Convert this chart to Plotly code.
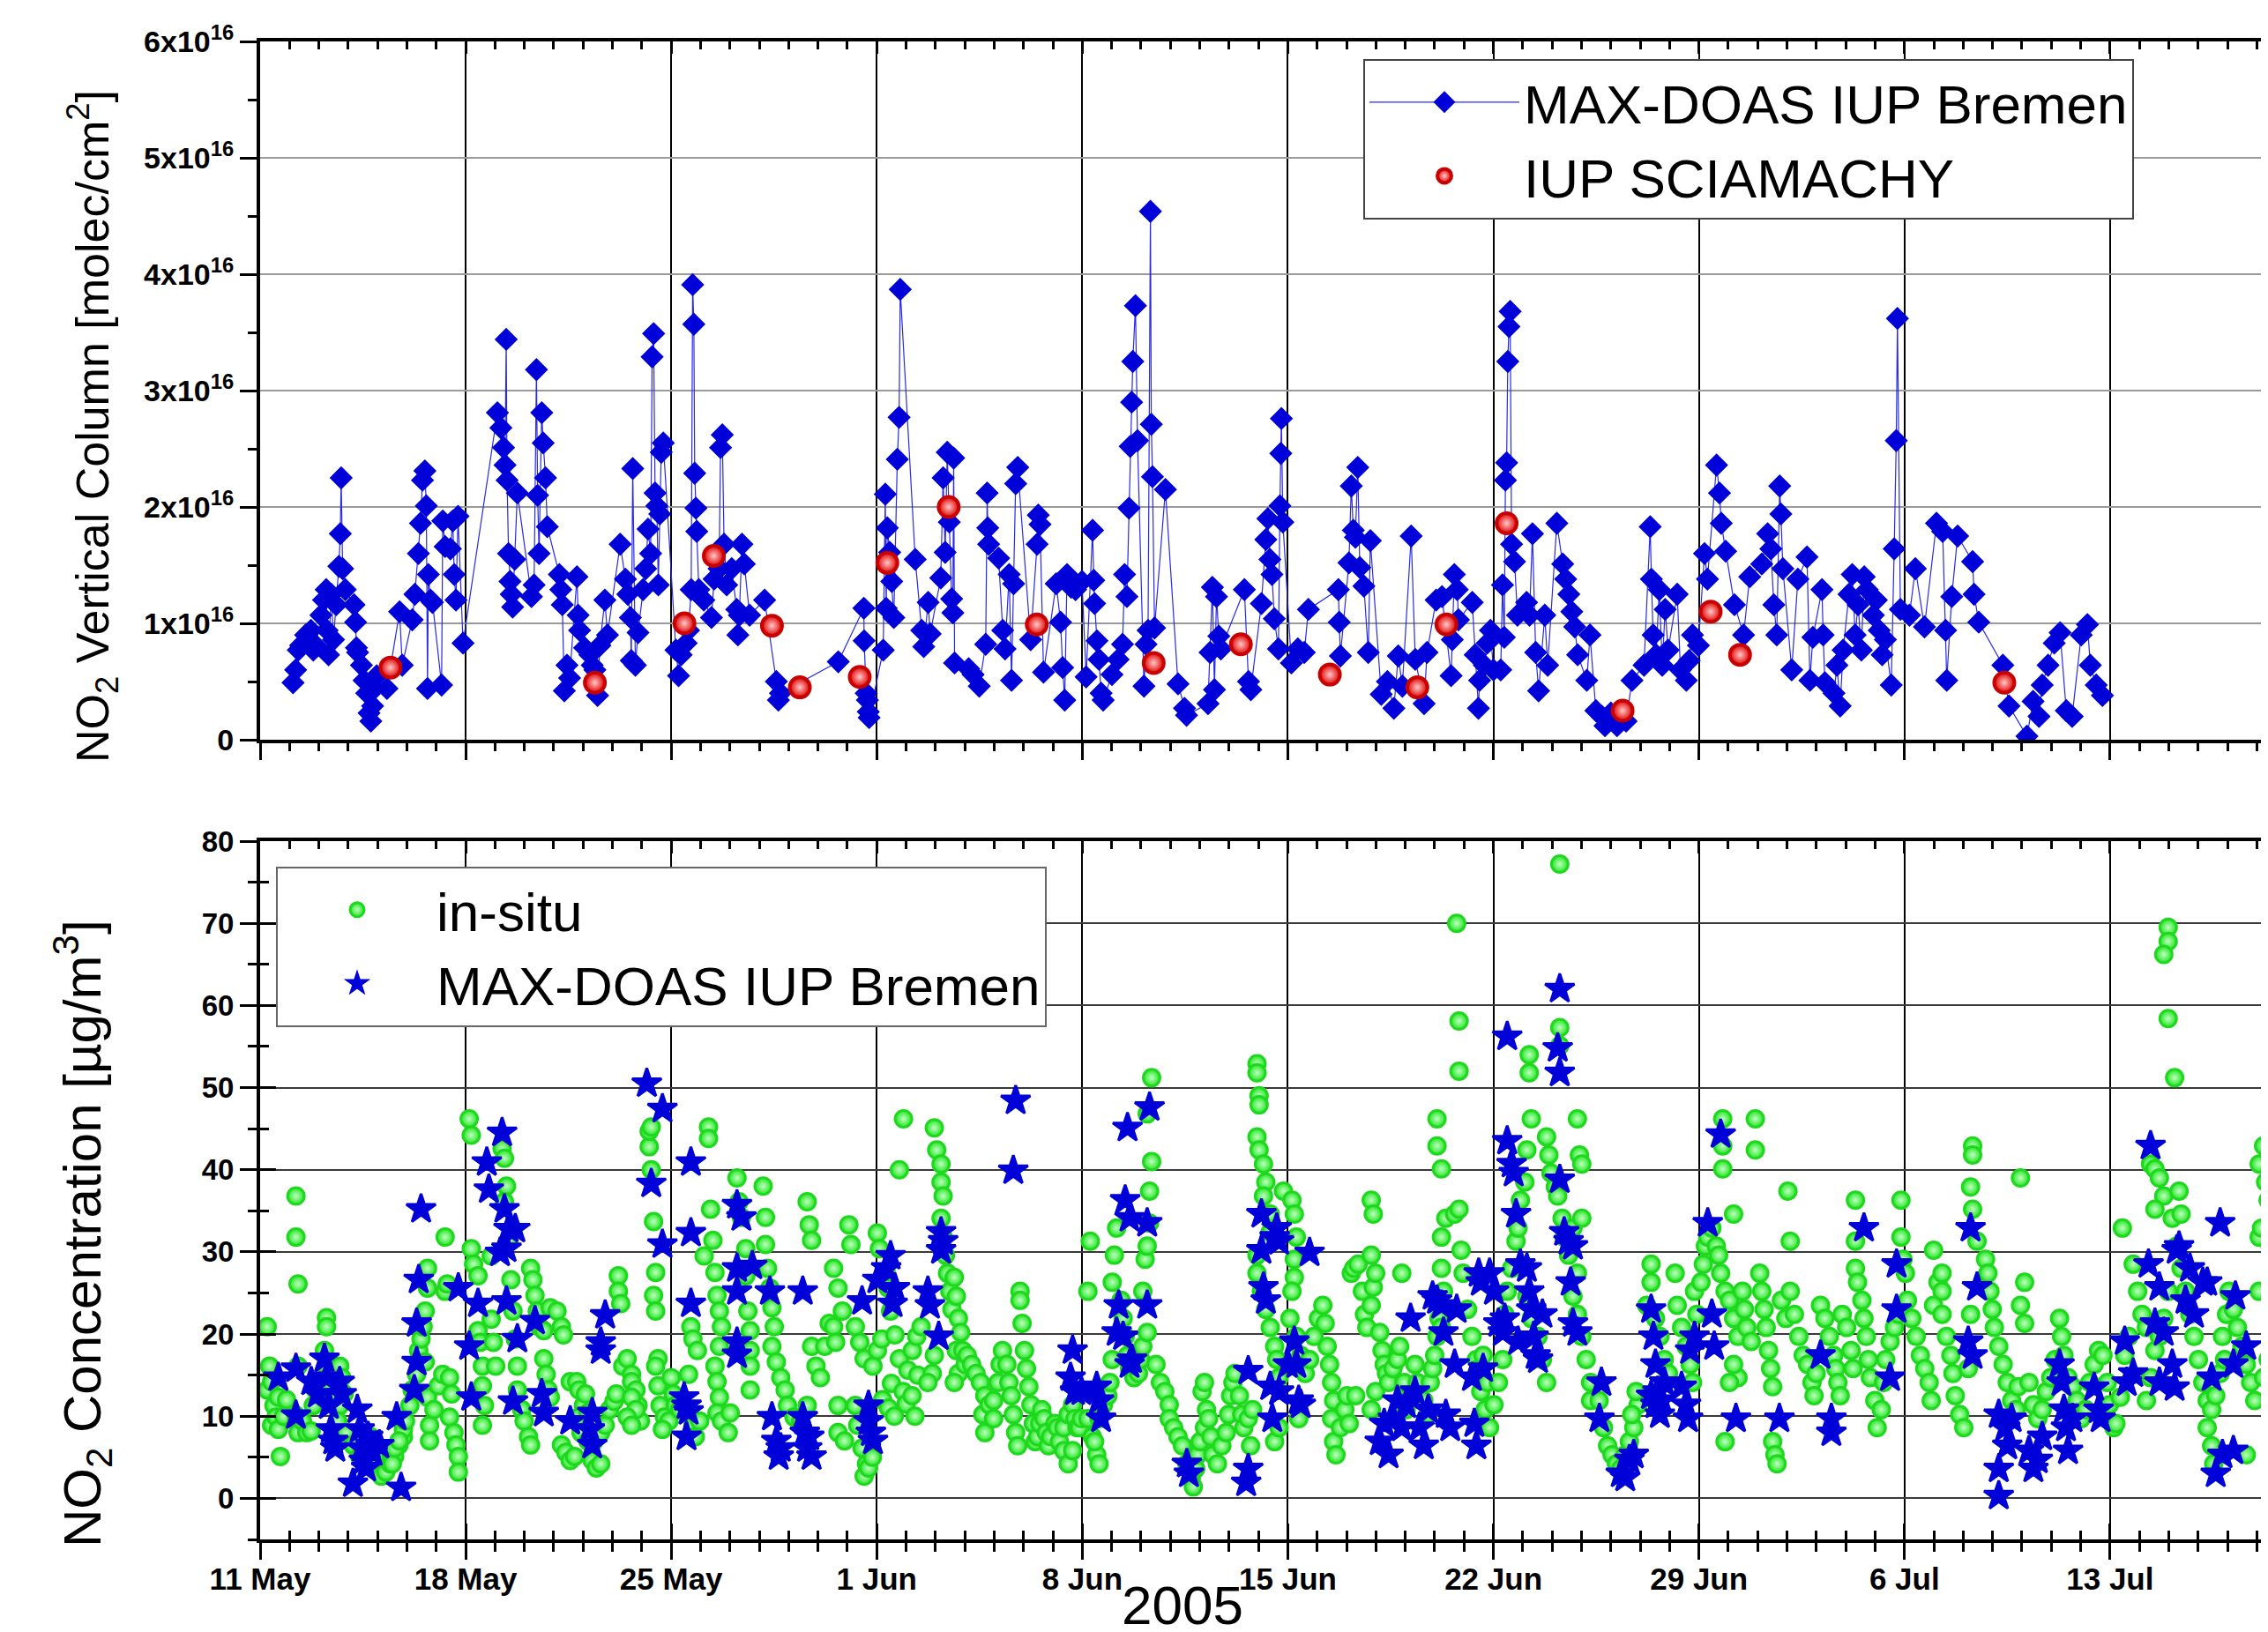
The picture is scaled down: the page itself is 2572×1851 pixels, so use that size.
import plotly.graph_objects as go
from datetime import datetime, timedelta

BASE = datetime(2005, 5, 11)
X_RANGE = ["2005-05-11 00:00", "2005-07-18 14:53"]
WEEK_MS = 7 * 86400000
DAY_MS = 86400000

# ---------------- top panel: MAX-DOAS vertical column (units of 1e16 molec/cm2) -------------
vc_day = [1.12, 1.21, 1.30, 1.38, 1.47, 1.55, 1.73, 1.81, 1.90, 2.07, 2.16, 2.25, 2.28, 2.33, 2.42, 2.50, 2.59,
          2.68, 2.73, 2.76, 2.81, 2.90, 3.20, 3.25, 3.28, 3.32, 3.45, 3.54, 3.63, 3.71, 3.77, 3.83, 3.90, 3.97,
          4.32, 4.75, 4.84, 5.18, 5.27, 5.39, 5.46, 5.53, 5.61, 5.66, 5.70, 5.73, 5.80, 5.87, 6.18, 6.22, 6.30,
          6.48, 6.56, 6.61, 6.67, 6.74, 6.91, 8.08, 8.20, 8.29, 8.34, 8.38, 8.41, 8.46, 8.51, 8.55, 8.60, 8.67,
          8.76, 9.24, 9.33, 9.41, 9.45, 9.50, 9.59, 9.64, 9.72, 9.78, 10.19, 10.24, 10.29, 10.36, 10.45, 10.54,
          10.79, 10.83, 10.88, 11.05, 11.23, 11.31, 11.40, 11.49, 11.57, 11.74, 11.83, 12.26, 12.44, 12.52,
          12.61, 12.64, 12.69, 12.78, 12.87, 13.04, 13.13, 13.21, 13.30, 13.35, 13.40, 13.45, 13.51, 13.56,
          13.61, 13.66, 13.73, 14.16, 14.25, 14.34, 14.51, 14.59, 14.68, 14.73, 14.77, 14.80, 14.84, 14.87,
          14.94, 15.11, 15.37, 15.46, 15.63, 15.68, 15.74, 15.80, 15.89, 16.06, 16.23, 16.27, 16.32, 16.41,
          16.49, 16.67, 17.18, 17.58, 17.65, 17.72, 19.69, 20.56, 20.57, 20.64, 20.68, 20.71, 20.74, 21.22,
          21.29, 21.32, 21.36, 21.44, 21.51, 21.58, 21.70, 21.76, 21.80, 22.31, 22.53, 22.60, 22.75, 22.82,
          23.18, 23.26, 23.33, 23.40, 23.47, 23.55, 23.59, 23.62, 23.65, 24.13, 24.28, 24.49, 24.71, 24.76,
          24.78, 24.81, 25.15, 25.29, 25.37, 25.51, 25.59, 25.66, 25.73, 25.80, 26.24, 26.46, 26.50, 26.56,
          26.68, 27.11, 27.26, 27.33, 27.40, 27.48, 27.62, 27.77, 27.99, 28.13, 28.35, 28.39, 28.42, 28.50,
          28.57, 28.64, 28.71, 29.01, 29.22, 29.37, 29.44, 29.52, 29.59, 29.63, 29.68, 29.72, 29.81, 29.88,
          30.10, 30.17, 30.24, 30.32, 30.35, 30.39, 30.46, 30.83, 31.26, 31.48, 31.55, 32.28, 32.35, 32.43,
          32.50, 32.57, 32.65, 32.72, 33.52, 33.66, 33.74, 34.10, 34.25, 34.32, 34.39, 34.46, 34.54, 34.68,
          34.73, 34.76, 34.78, 34.83, 35.12, 35.34, 35.56, 35.70, 36.72, 36.75, 36.79, 37.08, 37.16, 37.23,
          37.30, 37.38, 37.45, 37.59, 37.74, 37.81, 38.18, 38.39, 38.61, 38.76, 38.90, 39.20, 39.34, 39.64,
          39.74, 40.05, 40.25, 40.56, 40.60, 40.67, 40.77, 40.81, 41.28, 41.38, 41.49, 41.53, 41.69, 41.79,
          41.90, 42.00, 42.25, 42.31, 42.37, 42.41, 42.45, 42.49, 42.53, 42.57, 42.62, 42.72, 42.82, 43.13,
          43.23, 43.33, 43.44, 43.54, 43.75, 43.85, 44.16, 44.36, 44.46, 44.57, 44.67, 44.77, 44.87, 45.18,
          45.29, 45.49, 45.70, 45.80, 46.00, 46.21, 46.52, 46.72, 47.13, 47.34, 47.38, 47.44, 47.54, 47.65,
          47.75, 47.85, 47.95, 48.26, 48.37, 48.57, 48.67, 48.78, 48.98, 49.19, 49.29, 49.60, 49.70, 49.76,
          49.91, 50.21, 50.52, 50.73, 51.14, 51.34, 51.45, 51.55, 51.65, 51.75, 51.79, 51.86, 52.16, 52.37,
          52.68, 52.78, 52.88, 53.19, 53.23, 53.29, 53.60, 53.70, 53.81, 53.91, 54.11, 54.22, 54.32, 54.42,
          54.53, 54.63, 54.73, 54.94, 55.04, 55.14, 55.24, 55.35, 55.55, 55.65, 55.72, 55.76, 55.86, 56.17,
          56.37, 56.68, 57.09, 57.30, 57.40, 57.44, 57.61, 57.81, 58.32, 58.37, 58.53, 59.35, 59.56, 60.17,
          60.38, 60.58, 60.69, 60.89, 61.10, 61.30, 61.51, 61.71, 62.02, 62.23, 62.33, 62.53, 62.74]
vc_e16 = [0.49, 0.60, 0.77, 0.81, 0.83, 0.90, 0.94, 0.77, 0.81, 1.07, 1.20, 1.29, 0.94, 0.73, 1.25, 0.86, 1.16,
          1.49, 1.77, 2.25, 1.47, 1.29, 1.16, 1.01, 0.79, 0.75, 0.64, 0.51, 0.40, 0.23, 0.16, 0.29, 0.44, 0.55,
          0.44, 1.10, 0.64, 1.03, 1.25, 1.60, 1.86, 2.23, 2.31, 2.01, 0.44, 1.42, 1.20, 1.18, 0.47, 1.88, 1.66,
          1.64, 1.88, 1.42, 1.20, 1.92, 0.83, 2.81, 2.68, 2.51, 2.36, 3.44, 2.23, 1.60, 1.36, 1.25, 1.14, 1.55,
          2.12, 1.23, 1.33, 3.18, 2.10, 1.60, 2.81, 2.55, 2.25, 1.83, 1.42, 1.29, 1.16, 0.42, 0.64, 0.53,
          1.40, 1.07, 0.94, 0.79, 0.73, 0.64, 0.60, 0.38, 0.81, 1.20, 0.90, 1.68, 1.38, 1.25,
          1.05, 0.68, 2.33, 0.64, 0.92, 1.29, 1.47, 1.81, 1.60, 3.29, 3.49, 2.12, 2.01, 1.33,
          1.94, 2.47, 2.55, 0.77, 0.55, 0.73, 0.83, 0.94, 1.29, 3.91, 3.57, 2.29, 1.99, 1.79,
          1.29, 1.20, 1.05, 1.38, 1.47, 2.51, 2.62, 1.68, 1.33, 1.47, 1.12, 0.90, 1.07, 1.68,
          1.51, 1.07, 1.20, 0.50, 0.34, 0.40, 0.67, 1.13, 0.85, 0.40, 0.34, 0.24, 0.19, 0.77,
          2.11, 1.13, 1.82, 1.61, 1.36, 1.05, 2.41, 2.77, 3.87, 1.55, 0.94, 0.80, 1.18, 0.91,
          1.39, 2.25, 1.61, 2.47, 1.87, 1.21, 1.09, 2.42, 0.66, 0.61, 0.56, 0.46, 0.82, 2.12,
          1.82, 1.68, 1.56, 0.94, 0.78, 1.42, 0.51, 1.34, 2.20, 2.34, 0.86, 1.68, 1.93, 1.85,
          0.58, 1.34, 1.01, 0.62, 0.34, 1.42, 1.31, 1.29, 1.36, 0.54, 1.80, 1.37, 1.17, 0.85,
          0.69, 0.40, 0.34, 0.56, 0.69, 0.82, 1.42, 1.23, 1.99, 2.52, 2.90, 3.25, 3.73, 2.57,
          0.46, 0.82, 0.94, 4.54, 2.71, 2.26, 0.96, 2.15, 0.48, 0.27, 0.21, 0.31, 0.75, 1.31,
          0.43, 1.23, 0.89, 0.78, 1.29, 0.50, 0.43, 1.17, 1.72, 1.90, 1.55, 1.42, 1.04, 0.78,
          2.01, 2.46, 2.76, 1.87, 0.66, 0.78, 0.75, 1.12, 1.29, 1.01, 0.72, 1.52, 2.18, 1.80,
          1.74, 2.34, 1.48, 1.32, 0.75, 1.71, 0.39, 0.50, 0.27, 0.72, 0.46, 1.75, 0.69, 0.31,
          0.75, 1.20, 1.23, 0.55, 0.86, 1.42, 1.29, 1.03, 1.18, 0.73, 0.27, 0.51, 0.64, 0.83,
          0.94, 0.60, 0.60, 1.33, 0.88, 2.23, 2.38, 3.25, 3.55, 3.68, 1.68, 1.53, 1.07, 1.18,
          1.07, 1.77, 0.75, 0.42, 1.07, 0.64, 1.86, 1.51, 1.38, 1.25, 1.10, 0.97, 0.73, 0.51,
          0.90, 0.25, 0.20, 0.12, 0.23, 0.12, 0.16, 0.51, 0.64, 1.83, 1.38, 0.90, 0.73, 1.29,
          0.64, 1.12, 0.77, 1.25, 0.60, 0.51, 0.68, 0.90, 0.81, 1.60, 1.38, 2.36, 2.12, 1.86,
          1.62, 1.16, 0.90, 1.40, 1.51, 1.77, 1.64, 1.16, 0.90, 2.18, 1.94, 1.47, 0.60, 1.38,
          1.57, 0.51, 0.88, 1.29, 0.90, 0.49, 0.40, 0.64, 0.29, 0.77, 1.25, 1.42, 0.90, 1.16,
          0.77, 1.40, 1.29, 1.07, 1.20, 0.94, 0.73, 0.86, 0.47, 1.64, 2.57, 3.62, 1.12, 1.07,
          1.47, 0.97, 1.86, 1.79, 0.94, 0.51, 1.23, 1.75, 1.53, 1.25, 1.01, 0.64, 0.29, 0.03,
          0.33, 0.20, 0.47, 0.64, 0.83, 0.92, 0.25, 0.20, 0.90, 0.99, 0.64, 0.47, 0.38]

scia_day = [4.44, 11.40, 14.45, 15.45, 17.43, 18.38, 20.42, 21.36, 23.45, 26.45, 30.43, 33.40, 36.43, 39.41,
            40.40, 42.45, 46.40, 49.40, 50.40, 59.40]
scia_e16 = [0.62, 0.49, 1.00, 1.58, 0.98, 0.45, 0.54, 1.52, 2.00, 0.99, 0.66, 0.82, 0.56, 0.45,
            0.99, 1.86, 0.25, 1.10, 0.73, 0.49]

top_tick_vals = [0, 1, 2, 3, 4, 5, 6]
top_tick_text = ["0", "1x10<sup>16</sup>", "2x10<sup>16</sup>", "3x10<sup>16</sup>",
                 "4x10<sup>16</sup>", "5x10<sup>16</sup>", "6x10<sup>16</sup>"]

# ---------------- bottom panel: NO2 concentration (ug/m3) ----------------
insitu_day = [
    0.24, 0.24, 0.32, 0.39, 0.39, 0.47, 0.54, 0.62, 0.62, 0.69, 0.80, 0.90,
    1.22, 1.22, 1.29, 1.22, 1.29, 1.44, 1.59, 1.74, 1.81, 1.89, 1.29,
    2.19, 2.26, 2.26, 2.26, 2.34, 2.41, 2.49, 2.71, 2.78, 2.86, 2.71, 2.64, 2.93,
    3.16, 3.39, 3.76, 3.91, 4.13, 4.28, 4.43, 4.58, 4.73, 4.88, 4.88, 4.50, 4.58, 4.73, 4.95, 5.10, 5.18, 5.33,
    5.40, 5.48, 5.55, 5.62, 5.70, 5.70, 5.62, 5.70, 5.77, 5.77, 5.92, 6.07, 6.22, 6.30, 6.30, 6.37, 6.45, 6.52,
    6.45, 6.60, 6.67, 6.75, 6.75,
    7.12, 7.19, 7.19, 7.27, 7.42, 7.42, 7.49, 7.57, 7.57, 7.64, 7.57, 7.87, 7.94, 8.02, 7.87, 8.24, 8.32, 8.39,
    8.32, 8.46, 8.54, 8.61, 8.69, 8.76, 8.76, 8.91, 8.99, 9.14, 9.21, 9.21, 9.29, 9.36, 9.44, 9.51, 9.66, 9.88,
    10.11, 10.26, 10.33, 9.66, 9.74, 9.81, 9.88, 10.56, 10.78, 10.86, 11.01, 10.86, 11.08, 11.16, 10.93, 11.16,
    10.26, 10.41, 10.56, 10.71,
    11.31, 11.45, 11.60, 11.38, 11.60, 11.75, 11.90, 12.05, 12.13, 12.20, 12.20, 12.28, 12.35, 12.50, 12.65,
    12.65, 12.80, 12.87, 12.95, 12.65, 12.80, 12.50, 12.65, 13.40, 13.47, 13.40, 13.47, 13.32, 13.25, 13.25,
    13.32, 13.55, 13.47, 13.55, 13.62, 13.77, 13.92, 13.70, 14.00, 14.07, 14.14, 14.29, 14.59, 14.67, 14.74,
    14.89, 14.74, 14.82, 14.97,
    15.27, 15.27, 15.12, 15.34, 15.42, 15.49, 15.56, 15.64, 15.71, 15.64, 15.49, 15.56, 15.64, 15.56, 15.71,
    15.94, 16.01, 16.24, 16.31, 16.39, 16.54, 16.54, 16.61, 16.69, 16.69, 16.69, 16.69, 17.13, 17.21, 17.21,
    17.28, 17.36, 17.43, 17.51, 17.43, 17.58, 17.73, 17.88, 17.96, 18.18, 18.41, 18.63, 18.63, 18.70, 18.78,
    18.78, 18.93,
    19.08, 19.23, 19.38, 19.53, 19.60, 19.68, 19.68, 19.90, 19.53, 19.68, 19.83, 20.05, 20.12, 20.27, 20.42,
    20.57, 20.27, 20.35, 20.50, 20.65, 20.57, 20.72, 20.85, 20.87, 21.02, 21.17, 21.02, 21.09, 21.32, 21.39,
    21.47, 21.62, 21.77, 21.91, 21.77, 22.06, 22.21, 22.36, 22.51, 21.20, 21.40, 21.50, 21.60, 21.90, 22.00,
    22.20, 22.30, 22.40,
    22.96, 23.04, 23.19, 23.19, 23.26, 23.19, 23.26, 23.34, 23.41, 23.49, 23.56, 23.64, 23.71, 23.78, 23.86,
    23.71, 23.78, 23.64, 22.89, 22.96, 22.74, 23.93, 24.01, 24.08, 24.23, 24.38, 24.53, 24.68, 24.61, 24.68,
    24.83, 24.98, 24.98, 25.13, 25.20, 25.28, 25.43, 25.50, 25.58, 25.65, 25.73, 25.80, 25.88, 25.88, 25.95,
    26.03, 26.10, 26.18, 26.25, 26.33, 26.40, 26.48, 26.55, 26.62, 26.70, 26.77, 26.85, 26.92,
    27.07, 27.15, 27.22, 27.37, 27.52, 27.67, 27.75, 27.82, 27.37, 27.52, 27.67, 27.90, 27.97, 28.19, 28.27,
    28.19, 28.34, 28.49, 28.57, 28.42, 28.57, 28.72, 28.87, 28.94, 29.02, 29.02, 29.09, 29.17, 29.32, 29.39,
    29.46, 29.54, 29.61, 29.76, 29.91, 29.99, 30.06, 30.21, 30.06, 30.14, 30.21, 30.29, 30.29, 30.36, 30.36,
    30.21, 30.51, 30.66, 30.81, 30.96, 30.96,
    31.11, 31.26, 31.41, 31.56, 31.71, 31.78, 31.86, 31.93, 32.01, 32.16, 32.23, 32.08, 32.16, 32.30, 32.38,
    32.45, 32.60, 32.75, 32.90, 32.98, 33.05, 33.13, 33.20, 33.35, 33.43, 33.50, 33.65, 33.80, 33.73, 33.95,
    33.95, 34.02, 34.02, 33.95, 34.02, 34.17, 34.25, 34.17, 34.40, 34.40, 33.95, 33.95, 34.10, 34.25, 34.40,
    34.55, 34.62, 34.70, 34.55, 34.70, 34.85,
    35.14, 35.22, 35.29, 35.22, 35.22, 35.14, 35.07, 35.29, 35.44, 35.37, 35.59, 35.74, 35.89, 36.04, 36.19,
    36.27, 36.34, 36.42, 36.49, 36.56, 36.49, 36.56, 36.64, 36.79, 36.94, 37.01, 37.16, 37.24, 37.39, 37.54,
    37.61, 37.69, 37.84, 37.91, 37.99, 37.84, 37.84, 37.91, 38.13, 38.21, 38.28, 38.36, 37.99, 37.84, 37.31,
    37.09, 38.43, 38.58, 38.73, 38.88, 38.81, 38.96,
    39.03, 39.18, 39.33, 39.41, 39.48, 39.63, 39.78, 39.85, 39.93, 40.00, 40.08, 40.08, 40.23, 40.08, 40.15,
    40.23, 40.30, 40.23, 40.23, 40.38, 40.68, 40.83, 40.75, 40.83, 40.83, 40.90, 40.97, 41.12, 41.27, 41.42,
    41.50, 41.57, 41.72, 41.87, 41.80, 41.65, 42.02, 42.17, 42.32, 42.39, 42.47, 42.62, 42.77, 42.84, 42.92,
    43.07, 43.14, 43.22, 43.22, 43.29, 43.14, 43.29, 43.52, 43.67, 43.81, 43.81, 43.89, 43.96, 44.11, 44.19,
    44.26, 44.26, 44.26, 44.34, 44.41, 44.56, 44.71, 44.86, 44.93, 45.01, 45.01, 44.86, 44.71, 44.86, 45.01,
    45.16, 45.31, 45.31, 45.60, 45.75, 45.89, 46.04, 46.19, 46.34, 46.49, 46.63, 46.78, 46.93, 46.71, 46.86,
    47.37, 47.37, 47.22, 47.52, 47.67, 47.82, 47.96, 48.19, 48.26, 48.41, 48.56, 48.70, 48.78, 48.93, 48.85,
    49.07, 49.15, 49.22, 49.30, 49.44, 49.59, 49.67, 49.74, 49.89, 49.81, 49.81, 49.81, 50.18, 50.04, 50.18,
    50.33, 50.48, 50.55, 50.63, 50.78, 50.92, 50.92, 50.33, 49.89, 50.04, 50.18,
    51.07, 51.14, 51.22, 51.29, 51.37, 51.44, 51.51, 51.51, 51.59, 51.66, 51.81, 51.96, 52.03, 52.11, 52.11,
    52.25, 52.40, 52.55, 52.70, 52.85, 52.92, 52.99, 53.14, 53.29, 53.44, 53.59, 53.66, 53.73, 53.81, 53.88,
    54.03, 54.18, 54.25, 54.33, 54.33, 54.33, 54.40, 54.55, 54.62, 54.70, 54.77, 54.84, 54.99,
    55.07, 55.21, 55.29, 55.36, 55.51, 55.66, 55.80, 55.88, 55.88, 55.95, 56.03, 56.10, 56.25, 56.40, 56.54,
    56.69, 56.84, 56.91, 56.99, 56.99, 57.14, 57.28, 57.28, 57.28, 57.43, 57.58, 57.65, 57.73, 57.88, 58.02,
    58.17, 58.25, 58.32, 58.32, 58.25, 58.32, 58.47, 58.76, 58.84, 58.91, 58.99,
    59.06, 59.21, 59.36, 59.50, 59.65, 59.80, 59.87, 59.95, 60.09, 59.95, 60.09, 60.24, 60.39, 60.54, 60.69,
    60.83, 60.98, 61.13, 61.28, 61.35, 61.43, 61.57, 61.72, 61.87, 62.02, 62.17, 62.31, 62.46, 62.61, 62.76,
    62.91, 62.98, 63.13,
    63.20, 63.35, 63.42, 63.50, 63.64, 63.79, 63.94, 64.09, 64.24, 64.38, 64.53, 64.68, 64.83, 64.53, 64.98,
    64.98, 64.83, 64.98, 65.20, 65.12, 64.98, 64.83, 64.68, 64.53, 64.38, 64.24, 65.35, 65.42, 65.27, 65.42,
    65.57, 65.72, 65.86, 66.01, 66.16, 66.31, 66.46, 66.46, 66.53, 66.31, 66.60, 66.75, 66.90, 66.83, 66.97,
    67.05, 67.20, 67.34, 67.49, 67.64, 67.79, 67.64, 67.93, 68.08, 68.08, 68.16, 68.08, 68.23, 68.30, 68.38,
    68.53, 68.45, 68.53, 68.60, 68.53, 68.38, 68.23]
insitu_conc = [
    20.9, 13.2, 16.1, 14.2, 8.9, 11.3, 9.9, 8.4, 12.3, 5.1, 10.0, 12.0,
    36.8, 31.8, 26.1, 10.1, 8.0, 9.4, 8.0, 8.2, 11.3, 13.2, 16.1,
    18.0, 22.0, 20.9, 16.1, 14.7, 13.2, 11.8, 16.1, 14.7, 12.7, 11.3, 9.4, 8.0,
    6.5, 5.1, 7.5, 5.1, 2.7, 3.2, 4.2, 5.1, 6.5, 7.5, 8.4, 4.2, 6.1, 7.0, 9.4, 11.3, 13.2, 15.1,
    18.0, 19.4, 20.9, 22.8, 25.6, 28.0, 16.6, 12.3, 8.9, 7.0, 10.8, 13.7, 15.1, 31.8, 25.2, 26.1, 14.7, 12.7,
    9.9, 8.0, 6.5, 5.1, 3.2,
    46.2, 44.2, 30.4, 28.5, 27.1, 20.4, 19.0, 16.1, 13.7, 11.3, 8.9, 21.8, 19.0, 16.1, 29.5, 42.6, 41.4, 38.0,
    36.1, 31.4, 26.6, 22.8, 19.4, 16.1, 13.2, 10.8, 9.4, 7.5, 6.5, 28.0, 26.6, 24.7, 22.8, 20.9, 20.4, 23.2,
    22.8, 20.9, 19.9, 17.0, 15.1, 13.2, 12.3, 14.2, 14.2, 13.2, 11.3, 9.9, 12.7, 10.4, 8.0, 7.0,
    6.5, 5.6, 4.6, 5.1,
    4.6, 3.7, 4.2, 7.0, 8.0, 8.9, 10.8, 11.8, 12.7, 27.1, 25.2, 23.7, 16.1, 17.0, 15.1,
    14.2, 13.2, 11.3, 9.4, 12.3, 10.8, 9.9, 8.9, 33.7, 27.5, 24.7, 22.8, 40.0, 42.8, 44.7,
    45.2, 17.0, 16.1, 13.7, 11.3, 9.9, 9.4, 8.4, 14.7, 12.7, 11.3, 10.8, 15.1, 20.9, 19.4,
    18.0, 8.9, 7.5, 9.4,
    45.2, 43.8, 29.5, 35.2, 31.4, 27.5, 24.7, 22.8, 20.9, 18.5, 16.1, 14.2, 12.3, 10.4, 9.4,
    8.0, 10.4, 39.0, 36.1, 34.2, 30.4, 27.1, 22.8, 20.4, 18.0, 16.1, 13.2, 38.0, 34.2, 30.9,
    28.0, 25.6, 23.2, 20.9, 18.5, 16.6, 14.7, 13.2, 11.3, 9.9, 9.4, 11.3, 36.1, 33.3, 31.4,
    18.5, 16.1,
    14.7, 18.5, 21.3, 20.9, 19.0, 11.3, 8.0, 7.0, 28.0, 25.6, 22.8, 33.3, 30.9, 20.9, 19.0,
    17.0, 11.3, 8.9, 6.1, 4.2, 2.7, 3.7, 5.0, 16.1, 18.0, 19.4, 32.3, 30.4, 27.5, 25.6,
    22.8, 19.9, 17.0, 46.2, 40.0, 15.6, 18.0, 19.7, 20.9, 12.0, 11.0, 14.0, 10.0, 13.0, 11.5,
    12.5, 10.0, 15.0,
    45.1, 42.4, 40.7, 38.5, 36.8, 34.1, 31.8, 29.6, 27.4, 25.2, 23.0, 26.9, 24.6, 21.9, 20.2,
    18.0, 15.2, 14.1, 15.2, 17.4, 14.1, 18.0, 16.3, 17.4, 16.3, 15.2, 14.1, 12.5, 10.2, 8.0,
    11.4, 9.7, 11.9, 14.1, 16.3, 18.0, 16.3, 14.1, 12.5, 10.2, 8.0, 6.4, 25.2, 24.1, 21.3,
    18.0, 15.8, 13.6, 11.4, 9.1, 6.9, 7.5, 9.1, 10.8, 9.7, 8.0, 6.4, 7.5,
    9.1, 8.6, 6.9, 8.6, 10.2, 11.4, 9.7, 8.6, 5.8, 4.2, 5.8, 8.6, 9.7, 25.2, 31.3,
    9.7, 7.5, 5.3, 4.2, 6.9, 9.7, 11.4, 12.5, 14.1, 16.9, 26.3, 29.6, 32.9, 24.1, 21.9,
    19.7, 17.4, 15.8, 14.7, 15.2, 16.9, 18.5, 20.2, 25.2, 29.1, 30.7, 33.5, 37.4, 41.0, 51.2,
    46.8, 16.3, 14.1, 13.0, 11.4, 9.7,
    8.6, 7.5, 6.4, 4.2, 2.5, 1.4, 3.6, 5.3, 6.9, 8.6, 10.8, 13.0, 14.1, 9.7, 7.5,
    5.3, 4.2, 6.4, 8.0, 10.2, 12.5, 14.1, 15.2, 12.5, 10.2, 8.6, 9.7, 10.8, 6.4, 52.9,
    51.8, 49.0, 47.9, 44.0, 42.4, 40.7, 38.5, 36.8, 34.6, 32.4, 29.6, 27.4, 25.2, 23.0, 20.8,
    18.5, 16.9, 14.7, 6.9, 8.6, 37.4,
    36.3, 34.6, 31.8, 29.1, 26.9, 25.2, 21.9, 19.7, 17.4, 9.7, 15.2, 16.9, 19.7, 21.9, 23.5,
    21.3, 18.5, 16.3, 14.1, 11.9, 9.7, 6.9, 5.3, 8.6, 10.8, 12.5, 27.4, 28.0, 28.5, 25.2,
    22.4, 20.8, 23.5, 25.7, 27.4, 29.6, 36.3, 34.6, 20.2, 18.0, 16.3, 15.2, 13.0, 10.8, 12.5,
    9.1, 14.1, 15.8, 16.9, 27.4, 18.5, 14.1,
    10.8, 12.5, 16.3, 14.1, 12.5, 11.9, 10.2, 14.1, 15.8, 17.4, 46.2, 42.9, 40.1, 19.7, 21.9,
    20.8, 25.2, 28.0, 31.8, 34.1, 34.6, 35.2, 70.0, 58.1, 52.0, 30.2, 27.4, 23.0, 19.7, 16.9,
    15.8, 13.0, 10.8, 8.6, 14.1, 17.4, 11.4, 14.1, 16.9, 22.4, 25.2, 28.0, 31.3, 32.9, 36.3,
    38.5, 42.4, 51.8, 54.0, 46.2, 24.6, 21.9, 19.7, 16.9, 14.1, 44.0, 41.8, 39.6, 37.9, 36.8,
    77.2, 57.3, 55.1, 34.1, 31.8, 29.6, 32.9, 46.2, 41.8, 40.7, 34.1, 27.4, 24.6, 22.4, 19.7,
    16.9, 14.1, 11.9, 11.9, 8.6, 6.4, 5.3, 4.2, 3.6, 5.3, 6.9, 8.6, 11.4, 10.2, 13.0,
    28.5, 26.3, 23.5, 21.9, 19.7, 16.9, 15.2, 27.4, 23.5, 20.8, 18.5, 16.3, 14.1, 22.4, 25.2,
    26.3, 28.5, 30.7, 31.8, 32.9, 30.7, 29.6, 27.4, 25.2, 46.2, 42.9, 40.1, 34.6, 24.1, 21.9,
    19.7, 25.2, 23.0, 20.8, 19.1, 46.2, 42.4, 14.7, 6.9, 14.1, 16.3,
    27.4, 25.2, 23.0, 20.8, 18.0, 15.8, 13.6, 6.9, 5.3, 4.2, 24.1, 21.9, 37.4, 31.3, 25.2,
    22.4, 19.7, 17.4, 16.3, 14.1, 12.5, 15.2, 23.5, 21.9, 19.7, 17.4, 15.8, 14.1, 12.5, 22.4,
    20.8, 18.0, 15.8, 36.3, 31.3, 28.0, 26.3, 24.1, 21.9, 19.7, 16.9, 14.7, 11.9,
    8.6, 10.8, 14.1, 16.9, 19.1, 20.8, 22.4, 36.3, 31.8, 29.1, 27.4, 24.1, 21.9, 19.7, 17.4,
    15.8, 14.1, 11.9, 30.2, 23.5, 26.3, 27.4, 25.2, 22.4, 19.7, 17.4, 15.2, 12.5, 10.2, 8.6,
    15.8, 22.4, 42.9, 41.8, 37.9, 35.2, 31.3, 29.1, 27.4, 25.2, 23.0,
    20.8, 18.5, 16.3, 14.1, 11.9, 10.8, 13.6, 39.0, 26.3, 23.5, 21.3, 14.1, 11.4, 9.7, 10.8,
    13.0, 14.7, 16.9, 21.9, 19.7, 17.4, 14.7, 13.6, 11.9, 9.7, 10.8, 14.1, 16.3, 18.0, 17.4,
    14.1, 11.4, 8.6,
    9.1, 12.3, 32.9, 17.4, 19.7, 28.5, 25.2, 22.4, 20.8, 40.7, 40.1, 39.0, 36.8, 35.2, 69.5,
    67.8, 66.2, 58.4, 51.2, 34.1, 25.2, 21.9, 19.7, 18.0, 14.7, 11.9, 37.4, 34.6, 30.7, 28.0,
    25.2, 22.4, 19.7, 16.9, 14.1, 11.9, 10.8, 6.4, 4.2, 8.6, 12.5, 15.2, 16.9, 19.7, 22.4,
    25.2, 23.0, 20.8, 18.5, 16.3, 14.1, 5.3, 11.9, 25.2, 31.8, 32.9, 40.7, 42.9, 38.5, 36.3,
    34.6, 30.7, 27.4, 23.0, 19.7, 16.9, 14.7]

star_day = [
    0.62, 1.22, 1.22, 1.74, 1.96, 2.19, 2.26, 2.34, 2.41, 2.49, 2.56, 2.71, 2.78, 3.16, 3.31, 3.39, 3.46, 3.53,
    3.61, 3.68, 3.76, 3.83, 4.06, 4.65, 4.80, 5.25, 5.33, 5.33, 5.40, 5.48, 6.75, 7.12, 7.19, 7.42, 7.72, 7.79,
    8.24, 8.32, 8.39, 8.17, 8.46, 8.69, 8.76, 8.61, 8.39, 9.36, 9.59, 9.66, 10.56, 11.23, 11.31, 11.31, 11.60,
    11.75, 11.60,
    13.17, 13.32, 13.70, 13.70, 14.52, 14.52, 14.44, 14.59, 14.67, 14.67, 14.67, 16.24, 16.24, 16.24, 16.39,
    16.24, 16.24, 16.76, 17.36, 17.43, 17.58, 17.66, 17.73, 18.48, 18.48, 18.55, 18.63, 18.78, 18.70, 20.50,
    20.72, 20.72, 20.80, 20.87, 21.02, 21.32, 21.47, 21.54, 21.62,
    22.74, 22.81, 23.19, 23.26, 23.19, 23.11, 25.73, 25.65, 27.67, 27.60, 27.75, 27.97, 28.49, 28.57, 28.64,
    29.17, 29.24, 29.39, 29.46, 29.61, 29.54, 29.61, 29.69, 30.21, 30.21, 30.29, 31.56, 31.63, 33.65, 33.65,
    33.58, 34.10, 34.10, 34.17, 34.25, 34.40, 34.47, 34.55, 34.62, 34.70, 34.70, 35.00, 35.22, 35.29, 35.37,
    35.74, 35.44,
    38.13, 38.28, 38.43, 38.58, 38.73, 38.88, 39.03, 39.18, 39.33, 39.48, 39.63, 39.78, 39.93, 40.08, 40.23,
    40.30, 40.38, 40.53, 40.68, 40.75, 41.27, 41.35, 41.42, 41.50, 41.57, 41.65, 41.87, 42.02, 42.17, 42.32,
    42.39, 42.47, 42.47, 42.62, 42.69, 42.77, 42.84, 42.92, 43.14, 43.22, 43.29, 43.37, 43.44, 43.52, 43.67,
    44.26, 44.19, 44.26, 44.26, 44.41, 44.56, 44.71, 44.63, 44.71, 44.86, 45.68, 45.61,
    46.34, 46.49, 46.63, 46.78, 47.37, 47.45, 47.52, 47.37, 47.52, 47.59, 47.67, 47.74, 47.82, 48.41, 48.56,
    48.63, 48.70, 48.85, 49.30, 49.44, 49.52, 49.74, 50.26, 51.74, 53.14, 53.51, 53.51, 54.62, 55.51, 55.73,
    55.73, 58.25, 58.47, 58.17, 58.32, 59.21, 59.43, 59.65, 59.21, 59.21, 59.50, 60.24, 60.39, 60.54, 60.69,
    61.28, 61.35, 61.43, 61.50, 61.57, 61.72, 62.46, 62.61, 62.68, 63.50, 63.57, 63.79, 64.31, 64.38, 64.68,
    64.53, 64.68, 64.83, 65.12, 65.20, 65.27, 65.35, 65.57, 65.72, 65.86, 66.16, 66.31, 66.46, 66.60, 66.75,
    66.83, 67.20, 67.20, 67.27, 67.64]
star_conc = [
    14.7, 15.8, 10.1, 14.2, 12.7, 17.0, 14.7, 11.3, 8.4, 7.0, 6.1, 14.2, 12.7, 1.8, 10.8, 8.4, 6.1, 4.6,
    3.7, 7.5, 6.5, 5.6, 6.5, 9.9, 1.3, 13.2, 21.3, 16.6, 26.6, 35.2, 25.6, 18.5, 12.3, 23.7, 40.9, 37.6,
    44.5, 35.2, 30.4, 29.9, 32.8, 32.8, 19.4, 11.8, 24.0, 21.6, 12.7, 10.4, 9.4, 8.4, 6.5, 10.4, 19.0,
    22.3, 18.0,
    50.5, 38.3, 47.4, 30.9, 11.3, 7.5, 12.3, 10.6, 40.9, 23.7, 32.3, 35.7, 28.0, 25.2, 34.2,
    19.0, 17.5, 28.3, 25.2, 9.9, 7.0, 5.1, 6.1, 25.2, 9.9, 8.0, 6.1, 5.1, 7.5, 24.0,
    11.3, 9.4, 8.0, 7.0, 26.6, 28.0, 29.5, 23.7, 25.6,
    25.2, 23.5, 32.4, 31.3, 30.2, 19.7, 48.4, 39.9, 18.0, 14.7, 13.0, 13.0, 13.6, 11.9, 9.7,
    20.2, 23.5, 19.7, 36.3, 34.1, 45.1, 16.3, 16.9, 33.5, 23.5, 47.6, 4.2, 3.0, 15.5, 3.6,
    1.9, 34.6, 30.2, 25.7, 24.1, 13.6, 9.7, 31.8, 32.9, 31.3, 13.0, 16.3, 19.1, 16.3, 11.9,
    29.9, 11.4,
    6.9, 9.1, 5.3, 9.7, 11.9, 8.6, 11.4, 21.9, 13.0, 8.6, 6.4, 10.8, 24.6, 24.1, 23.5,
    20.2, 10.2, 8.6, 16.3, 23.0, 14.7, 9.1, 6.4, 27.4, 26.3, 15.8, 27.4, 25.2, 21.3, 20.2,
    21.9, 56.2, 43.5, 40.7, 39.6, 34.6, 19.1, 28.5, 28.0, 25.2, 23.0, 19.7, 17.4, 16.9, 22.4,
    62.0, 54.8, 51.8, 38.8, 32.4, 31.3, 30.7, 26.3, 21.3, 20.2, 14.1, 9.7,
    3.0, 2.5, 4.7, 5.3, 23.0, 19.7, 16.3, 12.5, 11.4, 13.0, 10.2, 11.9, 14.1, 13.6, 11.4,
    9.7, 18.0, 19.7, 33.5, 22.4, 18.5, 44.3, 9.7, 9.7, 17.4, 9.7, 8.0, 32.9, 14.7, 28.5,
    23.0, 32.9, 25.7, 19.1, 17.4, 10.2, 8.6, 9.7, 3.6, 0.3, 6.4, 5.8, 3.6, 4.7, 7.5,
    16.3, 14.1, 10.8, 8.6, 5.8, 9.7, 13.5, 10.8, 9.7, 19.1, 14.1, 15.2, 28.5, 42.9, 25.7,
    21.3, 14.1, 20.2, 16.3, 13.5, 30.2, 30.7, 24.1, 28.0, 22.4, 26.3, 26.3, 14.7, 3.0, 33.5,
    5.3, 5.8, 16.3, 24.6, 18.5]


def to_dates(days):
    return [BASE + timedelta(days=d) for d in days]


order = sorted(range(len(vc_day)), key=lambda i: vc_day[i])
vc_day_sorted = [vc_day[i] for i in order]
vc_sorted = [vc_e16[i] for i in order]

FONT = "Liberation Sans, Arial, sans-serif"
BLUE = "#0000d8"

fig = go.Figure()

# ---- top panel traces
fig.add_trace(go.Scatter(
    x=to_dates(vc_day_sorted), y=vc_sorted, mode="lines+markers", name="MAX-DOAS IUP Bremen",
    line=dict(color="#2a2ae6", width=1.2),
    marker=dict(symbol="diamond", size=17, color=BLUE, line=dict(width=3, color=BLUE)),
    xaxis="x", yaxis="y", legend="legend"))
fig.add_trace(go.Scatter(
    x=to_dates(scia_day), y=scia_e16, mode="markers", name="IUP SCIAMACHY",
    marker=dict(symbol="circle", size=23, color="#e00000",
                gradient=dict(type="radial", color="#ffc8c8"), line=dict(width=4, color="#c80000")),
    xaxis="x", yaxis="y", legend="legend"))

# ---- bottom panel traces
fig.add_trace(go.Scatter(
    x=to_dates(insitu_day), y=insitu_conc, mode="markers", name="in-situ",
    marker=dict(symbol="circle", size=19, color="#22e622",
                gradient=dict(type="radial", color="#c0ffc0"), line=dict(width=3, color="#1ed81e")),
    xaxis="x2", yaxis="y2", legend="legend2"))
fig.add_trace(go.Scatter(
    x=to_dates(star_day), y=star_conc, mode="markers", name="MAX-DOAS IUP Bremen",
    marker=dict(symbol="star", size=25, color=BLUE, line=dict(width=3, color=BLUE)),
    xaxis="x2", yaxis="y2", legend="legend2"))

# empty traces that activate the overlay axes used for crossing / mirrored ticks
for xa, ya in [("x3", "y"), ("x4", "y2"), ("x5", "y2"), ("x2", "y4")]:
    fig.add_trace(go.Scatter(x=[], y=[], xaxis=xa, yaxis=ya, showlegend=False, hoverinfo="skip"))

TOP_D = (1738 - 831) / 1699
BOT_D = (1738 - 946) / 1699

date_common = dict(type="date", range=X_RANGE, tickmode="linear", tick0="2005-05-11", dtick=WEEK_MS,
                   tickcolor="black", tickwidth=3, zeroline=False)
minor_out = dict(tick0="2005-05-11", dtick=DAY_MS, ticks="outside", ticklen=9, tickwidth=3,
                 tickcolor="black", showgrid=False)
minor_in = dict(tick0="2005-05-11", dtick=DAY_MS, ticks="inside", ticklen=9, tickwidth=3,
                tickcolor="black", showgrid=False)

legend_font = dict(family=FONT, size=62, color="black")

fig.update_layout(
    width=2572, height=1851,
    margin=dict(l=287, r=0, t=39, b=113, autoexpand=False),
    paper_bgcolor="white", plot_bgcolor="white",
    template="none",
    font=dict(family=FONT, color="black"),
    xaxis=dict(**date_common, domain=[0, 1], anchor="y", showticklabels=False,
               ticks="outside", ticklen=19, minor=minor_out,
               showline=True, linewidth=4, linecolor="black",
               showgrid=True, gridcolor="black", gridwidth=1.5),
    xaxis3=dict(**date_common, overlaying="x", anchor="y", side="top", showticklabels=False,
                ticks="inside", ticklen=14, minor=minor_in,
                showline=True, linewidth=4, linecolor="black", showgrid=False),
    yaxis=dict(domain=[TOP_D, 1], anchor="x", range=[0, 6], tickmode="array",
               tickvals=top_tick_vals, ticktext=top_tick_text,
               tickfont=dict(family=FONT, size=34, color="black", weight="bold"),
               ticks="outside", ticklen=19, tickwidth=3, tickcolor="black",
               minor=dict(tickmode="linear", tick0=0, dtick=0.5, ticks="outside", ticklen=10,
                          tickwidth=3, tickcolor="black", showgrid=False),
               showline=True, linewidth=4, linecolor="black",
               showgrid=True, gridcolor="#9a9a9a", gridwidth=2, zeroline=False),
    xaxis2=dict(**date_common, domain=[0, 1], anchor="y2", tickformat="%-d %b",
                tickfont=dict(family=FONT, size=35, color="black", weight="bold"),
                ticks="outside", ticklen=19, minor=dict(minor_out, ticklen=10),
                ticklabelstandoff=-8,
                showline=True, linewidth=4, linecolor="black",
                showgrid=True, gridcolor="black", gridwidth=1.5),
    xaxis4=dict(**date_common, overlaying="x2", anchor="y2", side="bottom", showticklabels=False,
                ticks="inside", ticklen=18, minor=dict(minor_in, ticklen=10),
                showline=False, showgrid=False),
    xaxis5=dict(**date_common, overlaying="x2", anchor="y2", side="top", showticklabels=False,
                ticks="inside", ticklen=14, minor=minor_in,
                showline=True, linewidth=4, linecolor="black", showgrid=False),
    yaxis2=dict(domain=[0, BOT_D], anchor="x2", range=[-5, 80], tickmode="linear", tick0=0, dtick=10,
                tickfont=dict(family=FONT, size=33, color="black", weight="bold"),
                ticks="outside", ticklen=19, tickwidth=3, tickcolor="black",
                minor=dict(tickmode="linear", tick0=0, dtick=5, ticks="outside", ticklen=10,
                           tickwidth=3, tickcolor="black", showgrid=False),
                showline=True, linewidth=4, linecolor="black",
                showgrid=True, gridcolor="#3a3a3a", gridwidth=2, zeroline=False),
    yaxis4=dict(overlaying="y2", anchor="x2", side="left", range=[-5, 80], tickmode="linear", tick0=0,
                dtick=10, showticklabels=False, ticks="inside", ticklen=18, tickwidth=3, tickcolor="black",
                minor=dict(tickmode="linear", tick0=0, dtick=5, ticks="inside", ticklen=10,
                           tickwidth=3, tickcolor="black", showgrid=False),
                showline=False, showgrid=False, zeroline=False),
    legend=dict(x=(1538 - 287) / 2285, y=(1738 - 59) / 1699, xanchor="left", yanchor="top",
                bgcolor="white", bordercolor="#444444", borderwidth=2,
                font=legend_font, itemwidth=170, tracegroupgap=0),
    legend2=dict(x=(305 - 287) / 2285, y=(1738 - 975) / 1699, xanchor="left", yanchor="top",
                 bgcolor="white", bordercolor="#666666", borderwidth=2,
                 font=legend_font, itemwidth=170, tracegroupgap=0),
    showlegend=True,
)

fig.add_annotation(text="NO<sub>2</sub> Vertical Column [molec/cm<sup>2</sup>]", textangle=-90,
                   xref="paper", yref="paper", x=(97 - 287) / 2285, y=(1738 - 476) / 1699,
                   xanchor="center", yanchor="middle", showarrow=False,
                   font=dict(family=FONT, size=52, color="black"))
fig.add_annotation(text="NO<sub>2</sub> Concentration [µg/m<sup>3</sup>]", textangle=-90,
                   xref="paper", yref="paper", x=(85 - 287) / 2285, y=(1738 - 1391) / 1699,
                   xanchor="center", yanchor="middle", showarrow=False,
                   font=dict(family=FONT, size=60, color="black"))
fig.add_annotation(text="2005", xref="paper", yref="paper", x=(1333 - 287) / 2285,
                   y=(1738 - 1812) / 1699, xanchor="center", yanchor="middle", showarrow=False,
                   font=dict(family=FONT, size=62, color="black"))

fig.write_html("out.html")
